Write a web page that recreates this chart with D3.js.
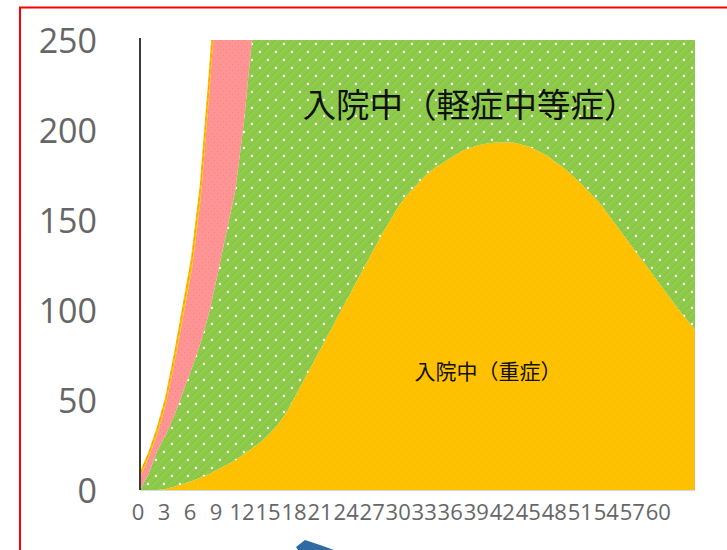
<!DOCTYPE html>
<html>
<head>
<meta charset="utf-8">
<script src="https://cdn.jsdelivr.net/npm/d3@7"></script>
<style>
  html, body { margin: 0; padding: 0; background: #fff; }
  svg { display: block; }
</style>
</head>
<body>
<svg id="chart" width="727" height="550"></svg>
<script>
// Days since start (category axis)
const days = [0,1,2,3,4,5,6,7,8,9,10,11,12,13,14,15,16,17,18,19,20,21,22,23,24,25,26,27,28,29,30,31,32,33,34,35,36,37,38,39,40,41,42,43,44,45,46,47,48,49,50,51,52,53,54,55,56,57,58,59,60,61,62,63,64];
const xTickLabels = [0,3,6,9,12,15,18,21,24,27,30,33,36,39,42,45,48,51,54,57,60];
const yTickLabels = [0,50,100,150,200,250];

// Hospitalised, severe
const severe = [0,0,0,0.5,2,3.5,5,7,9,11.5,14,16.5,20,23.5,27,31.5,37,44,53,62,71,80,89,98,107,116,125,134,143,151,159,165,170,175,179,182,185,188,190,191.5,192.5,193,193,193,192,190.5,188,185.5,182,178.5,174,169.5,164.5,159.5,153,146.5,140,133.5,127,120.5,114,107.5,101,95,89];
// Hospitalised, mild / moderate
const mild = [0,9,22,30.5,40,51.5,63,75,90,109.5,130,150.5,185,231.5,285,340,395,450,505,560,610,660,705,745,780,810,835,850,860,865,860,850,835,815,790,765,735,705,675,645,615,585,555,530,505,480,460,440,420,400,385,370,355,340,330,320,310,300,292,285,278,272,266,260,255];
// Third band (pink)
const pinkBand = [7,9,9,17,29,42,55,80,122,165,205,245,280,310,335,355,370,380,385,385,380,372,362,350,338,325,312,298,285,272,260,248,236,225,214,204,194,185,176,168,160,153,146,139,133,127,121,116,111,106,101,97,93,89,85,82,79,76,73,70,67,65,63,61,59];
// Thin leading band (yellow)
const edgeBand = [2,2,3,3,4,5,6,7,8,9,10,11,12,13,14,15,16,17,18,19,20,21,22,23,24,25,26,27,28,29,30,31,32,33,34,35,36,37,38,39,40,41,42,43,44,45,46,47,48,49,50,51,52,53,54,55,56,57,58,59,60,61,62,63,64];

const seriesKeys = ["severe", "mild", "pink", "edge"];
const rows = days.map((d, i) => ({
  day: d, severe: severe[i], mild: mild[i], pink: pinkBand[i], edge: edgeBand[i]
}));

const svg = d3.select("#chart");
const W = 727, H = 550;
const plot = { left: 140, right: 695, top: 40, bottom: 490 };

svg.append("rect").attr("width", W).attr("height", H).attr("fill", "#fff");

const defs = svg.append("defs");

// Dotted green fill
const pg = defs.append("pattern").attr("id", "pGreen")
  .attr("patternUnits", "userSpaceOnUse").attr("width", 16).attr("height", 16);
pg.append("rect").attr("width", 16).attr("height", 16).attr("fill", "#8ecb4a");
[[0,2],[4,6],[8,2],[12,6],[0,10],[4,14],[8,10],[12,14],[2,0],[6,4],[10,0],[14,4],[2,8],[6,12],[10,8],[14,12]].forEach(([x, y]) =>
  pg.append("rect").attr("x", x).attr("y", y).attr("width", 1).attr("height", 1).attr("fill", "#79b83e"));
pg.append("circle").attr("cx", 4).attr("cy", 4).attr("r", 1.25).attr("fill", "#ffffff");
pg.append("circle").attr("cx", 12).attr("cy", 12).attr("r", 1.25).attr("fill", "#ffffff");

// Lightly speckled orange fill
const po = defs.append("pattern").attr("id", "pOrange")
  .attr("patternUnits", "userSpaceOnUse").attr("width", 8).attr("height", 8);
po.append("rect").attr("width", 8).attr("height", 8).attr("fill", "#ffc000");
po.append("rect").attr("x", 2).attr("y", 2).attr("width", 1).attr("height", 1).attr("fill", "#ffcc3a");
po.append("rect").attr("x", 6).attr("y", 6).attr("width", 1).attr("height", 1).attr("fill", "#ffcc3a");

// Lightly speckled pink fill
const pp = defs.append("pattern").attr("id", "pPink")
  .attr("patternUnits", "userSpaceOnUse").attr("width", 6).attr("height", 6);
pp.append("rect").attr("width", 6).attr("height", 6).attr("fill", "#fe9494");
pp.append("rect").attr("x", 1).attr("y", 1).attr("width", 1).attr("height", 1).attr("fill", "#f28585");
pp.append("rect").attr("x", 4).attr("y", 4).attr("width", 1).attr("height", 1).attr("fill", "#f28585");

defs.append("clipPath").attr("id", "plotClip")
  .append("rect").attr("x", plot.left).attr("y", plot.top)
  .attr("width", plot.right - plot.left).attr("height", plot.bottom - plot.top);

const x = d3.scaleLinear().domain([days[0], days[days.length - 1]]).range([plot.left, plot.right]);
const y = d3.scaleLinear().domain([0, 250]).range([plot.bottom, plot.top]);

const stacked = d3.stack().keys(seriesKeys)(rows);

const area = d3.area()
  .x(d => x(d.data.day))
  .y0(d => y(d[0]))
  .y1(d => y(d[1]))
  .curve(d3.curveLinear);

const fills = { severe: "url(#pOrange)", mild: "url(#pGreen)", pink: "url(#pPink)", edge: "#ffc000" };

const g = svg.append("g").attr("clip-path", "url(#plotClip)");
g.selectAll("path.band").data(stacked).join("path")
  .attr("class", "band")
  .attr("d", area)
  .attr("fill", s => fills[s.key]);

// yellow rim with dashed orange along the leading edge
const edgeLine = d3.line()
  .x(d => x(d.data.day))
  .y(d => y(d[1]))
  .curve(d3.curveLinear);
g.append("path").datum(stacked[3])
  .attr("d", edgeLine)
  .attr("fill", "none")
  .attr("stroke", "#ffc000")
  .attr("stroke-width", 2);
g.append("path").datum(stacked[3])
  .attr("d", edgeLine)
  .attr("fill", "none")
  .attr("stroke", "#ee9a1a")
  .attr("stroke-width", 1)
  .attr("stroke-dasharray", "4,4");

// right edge of the severe band
g.append("line")
  .attr("x1", plot.right - 0.5).attr("x2", plot.right - 0.5)
  .attr("y1", y(severe[severe.length - 1])).attr("y2", plot.bottom)
  .attr("stroke", "#f8b040").attr("stroke-width", 1);

// horizontal axis baseline
svg.append("line")
  .attr("x1", plot.left).attr("x2", plot.right)
  .attr("y1", plot.bottom + 0.5).attr("y2", plot.bottom + 0.5)
  .attr("stroke", "#d9d9d9").attr("stroke-width", 1);

// vertical axis
const yAxis = d3.axisLeft(y).tickValues(yTickLabels).tickSize(0).tickPadding(43);
const yg = svg.append("g").attr("transform", `translate(${plot.left},0)`).call(yAxis);
yg.select(".domain").attr("stroke", "#3a3a3a").attr("stroke-width", 2)
  .attr("d", `M0,${plot.top - 2}V${plot.bottom}`);
yg.selectAll("text")
  .attr("font-family", "'Open Sans', 'Noto Sans', sans-serif")
  .attr("font-size", 34)
  .attr("fill", "#666666")
  .attr("dy", "0.36em");

// category axis labels
const xAxis = d3.axisBottom(x).tickValues(xTickLabels).tickSize(0).tickPadding(14);
const xg = svg.append("g").attr("transform", `translate(-2.5,${plot.bottom})`).call(xAxis);
xg.select(".domain").remove();
xg.selectAll("text")
  .attr("font-family", "'Open Sans', 'Noto Sans', sans-serif")
  .attr("font-size", 22)
  .attr("fill", "#666666");

// band labels
svg.append("text")
  .attr("x", 470).attr("y", 105).attr("dy", "0.36em")
  .attr("text-anchor", "middle")
  .attr("font-family", "'Noto Sans CJK JP', sans-serif")
  .attr("font-size", 33.5)
  .attr("fill", "#111")
  .text("入院中（軽症中等症）");

svg.append("text")
  .attr("x", 488).attr("y", 371).attr("dy", "0.36em")
  .attr("text-anchor", "middle")
  .attr("font-family", "'Noto Sans CJK JP', sans-serif")
  .attr("font-size", 21)
  .attr("fill", "#111")
  .text("入院中（重症）");

// red frame
svg.append("rect")
  .attr("x", 20).attr("y", 7.5)
  .attr("width", 740).attr("height", 600)
  .attr("fill", "none")
  .attr("stroke", "#ff0000").attr("stroke-width", 2);

// tip of a blue arrow entering from below
svg.append("path")
  .attr("d", "M296,547 L305,540 L320,545 L334,550 L298,550 Z")
  .attr("fill", "#2f6aa3");
</script>
</body>
</html>
